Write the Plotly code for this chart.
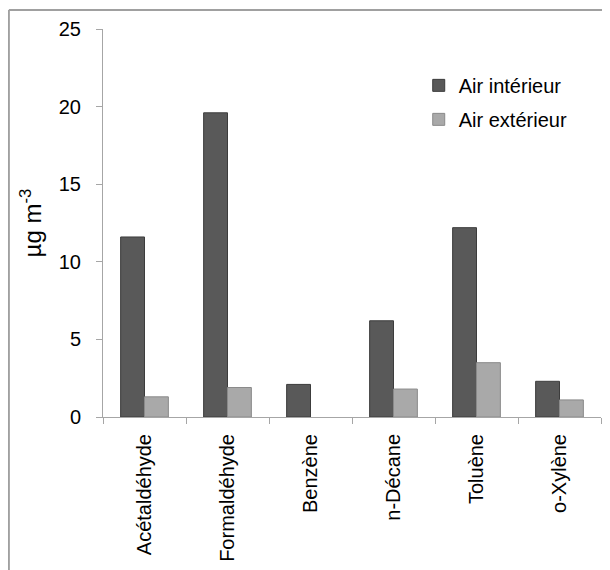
import plotly.graph_objects as go

composes = ['Acétaldéhyde', 'Formaldéhyde', 'Benzène', 'n-Décane', 'Toluène', 'o-Xylène']
air_interieur = [11.6, 19.6, 2.1, 6.2, 12.2, 2.3]
air_exterieur = [1.3, 1.9, None, 1.8, 3.5, 1.1]

font_fam = "Liberation Sans, Arial, sans-serif"

fig = go.Figure()
fig.add_trace(go.Bar(
    x=composes, y=air_interieur, name='Air intérieur',
    marker=dict(color='#595959', line=dict(color='#3c3c3c', width=1)),
    legendgroup='a'
))
fig.add_trace(go.Bar(
    x=composes, y=air_exterieur, name='Air extérieur',
    marker=dict(color='#a9a9a9', line=dict(color='#8a8a8a', width=1)),
    legendgroup='b'
))

# page body has an 8px margin, so the figure is a bit smaller than the window
fig.update_layout(
    width=602, height=562,
    margin=dict(l=95, r=9, t=21, b=153),
    paper_bgcolor='white', plot_bgcolor='white',
    font=dict(family=font_fam, size=20, color='black'),
    barmode='group', bargap=0.425, bargroupgap=0,
    showlegend=True,
    legend=dict(x=0.634, y=0.905, xanchor='left', yanchor='top',
                bgcolor='rgba(0,0,0,0)', font=dict(size=20),
                tracegroupgap=5, itemwidth=30),
    xaxis=dict(showline=True, linecolor='#a6a6a6', linewidth=1, automargin=False,
               ticks='outside', tickson='boundaries', ticklen=6, tickcolor='#a6a6a6',
               tickangle=-90, showgrid=False, ticklabelstandoff=8),
    yaxis=dict(range=[0, 25], dtick=5, showline=True, linecolor='#a6a6a6', linewidth=1,
               automargin=False, ticks='outside', ticklen=6, tickcolor='#a6a6a6',
               showgrid=False, zeroline=False, ticklabelstandoff=11,
               title=dict(text='µg m<sup>-3</sup>', standoff=10)),
    shapes=[
        dict(type='line', xref='paper', yref='paper', x0=-0.189, x1=1.1, y0=1.049, y1=1.049,
             line=dict(color='#a0a0a0', width=2)),
        dict(type='line', xref='paper', yref='paper', x0=-0.189, x1=-0.189, y0=1.049, y1=-0.5,
             line=dict(color='#a0a0a0', width=2)),
    ],
)

fig.write_html("out.html")
